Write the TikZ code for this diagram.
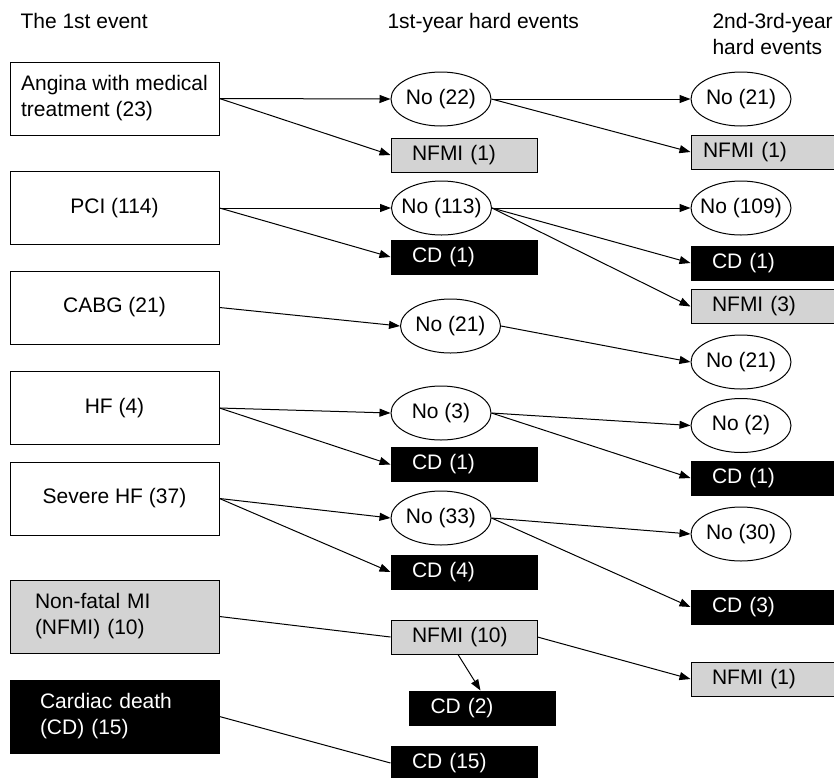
\documentclass[tikz,border=0pt]{standalone}
\usepackage{fontspec}
\setmainfont{Liberation Sans}
\usetikzlibrary{shapes, arrows.meta, positioning}
\definecolor{nfmigray}{RGB}{211,211,211}
\newcommand{\nocount}[1]{\makebox[0pt]{No (#1)}}

\begin{document}
\begin{tikzpicture}[x=1pt, y=-1pt, line width=1pt, font=\fontsize{21}{26}\selectfont,
    first/.style={draw, rectangle, minimum width=209pt, minimum height=73pt},
    no/.style={draw, ellipse, minimum width=100pt, minimum height=54pt, inner sep=0pt},
    hard/.style={draw, rectangle, minimum height=34pt, text width=104pt, inner xsep=21pt, inner ysep=2pt, align=left},
    nfmi/.style={fill=nfmigray},
    cd/.style={fill=black, text=white},
    arr/.style={-{Triangle[length=11pt, width=8pt]}}]

    \useasboundingbox (0,0) rectangle (834,777);

    \node (head0) [anchor=north west, inner sep=0pt] at (20,13) {The 1st event};
    \node (head1) [anchor=north west, inner sep=0pt] at (387,13) {1st-year hard events};
    \node (head2) [anchor=north west, inner sep=0pt, align=left] at (712,13) {2nd-3rd-year\\hard events};

    \node (first0) [first, align=left] at (114.5,98.5) {Angina with medical\\treatment (23)};
    \node (first1) [first] at (114.5,208) {PCI (114)};
    \node (first2) [first] at (114.5,307.5) {CABG (21)};
    \node (first3) [first] at (114.5,408) {HF (4)};
    \node (first4) [first] at (114.5,498.5) {Severe HF (37)};
    \node (first5) [first, nfmi, text width=159pt, inner xsep=25pt, align=left] at (114.5,616.5) {Non-fatal MI\\(NFMI) (10)};
    \node (first6) [first, cd, text width=149pt, inner xsep=30pt, align=left] at (114.5,716.5) {Cardiac death\\(CD) (15)};

    \node (mid0) [no] at (441,99) {\nocount{22}};
    \node (mid1) [hard, nfmi] at (464,155) {NFMI (1)};
    \node (mid2) [no] at (441.5,208) {\nocount{113}};
    \node (mid3) [hard, cd] at (464,257) {CD (1)};
    \node (mid4) [no] at (450.5,326) {\nocount{21}};
    \node (mid5) [no] at (441,413) {\nocount{3}};
    \node (mid6) [hard, cd] at (464,464.5) {CD (1)};
    \node (mid7) [no] at (441,518) {\nocount{33}};
    \node (mid8) [hard, cd] at (464,572) {CD (4)};
    \node (mid9) [hard, nfmi] at (464,637) {NFMI (10)};
    \node (mid10) [hard, cd] at (482.5,708) {CD (2)};
    \node (mid11) [hard, cd] at (464,763) {CD (15)};

    \node (last0) [no] at (741,99) {\nocount{21}};
    \node (last1) [hard, nfmi, text width=122pt, inner xsep=12pt] at (764,152) {NFMI (1)};
    \node (last2) [no] at (741,208) {\nocount{109}};
    \node (last3) [hard, cd] at (764,263) {CD (1)};
    \node (last4) [hard, nfmi] at (764,306.5) {NFMI (3)};
    \node (last5) [no] at (741,362) {\nocount{21}};
    \node (last6) [no] at (741,425.5) {\nocount{2}};
    \node (last7) [hard, cd] at (764,478) {CD (1)};
    \node (last8) [no] at (741,534) {\nocount{30}};
    \node (last9) [hard, cd] at (764,607) {CD (3)};
    \node (last10) [hard, nfmi] at (764,679) {NFMI (1)};

    \draw[arr] (first0.east) -- (mid0.west);
    \draw[arr] (first0.east) -- (mid1.west);
    \draw[arr] (mid0.east) -- (last0.west);
    \draw[arr] (mid0.east) -- (last1.west);

    \draw[arr] (first1.east) -- (mid2.west);
    \draw[arr] (first1.east) -- (mid3.west);
    \draw[arr] (mid2.east) -- (last2.west);
    \draw[arr] (mid2.east) -- (last3.west);
    \draw[arr] (mid2.east) -- (last4.west);

    \draw[arr] (first2.east) -- (mid4.west);
    \draw[arr] (mid4.east) -- (last5.west);

    \draw[arr] (first3.east) -- (mid5.west);
    \draw[arr] (first3.east) -- (mid6.west);
    \draw[arr] (mid5.east) -- (last6.west);
    \draw[arr] (mid5.east) -- (last7.west);

    \draw[arr] (first4.east) -- (mid7.west);
    \draw[arr] (first4.east) -- (mid8.west);
    \draw[arr] (mid7.east) -- (last8.west);
    \draw[arr] (mid7.east) -- (last9.west);

    \draw (first5.east) -- (mid9.west);
    \draw[arr] (mid9.east) -- (last10.west);
    \draw[arr] ([xshift=-6pt]mid9.south) -- ([xshift=-2pt]mid10.north);

    \draw (first6.east) -- (mid11.west);
\end{tikzpicture}
\end{document}
